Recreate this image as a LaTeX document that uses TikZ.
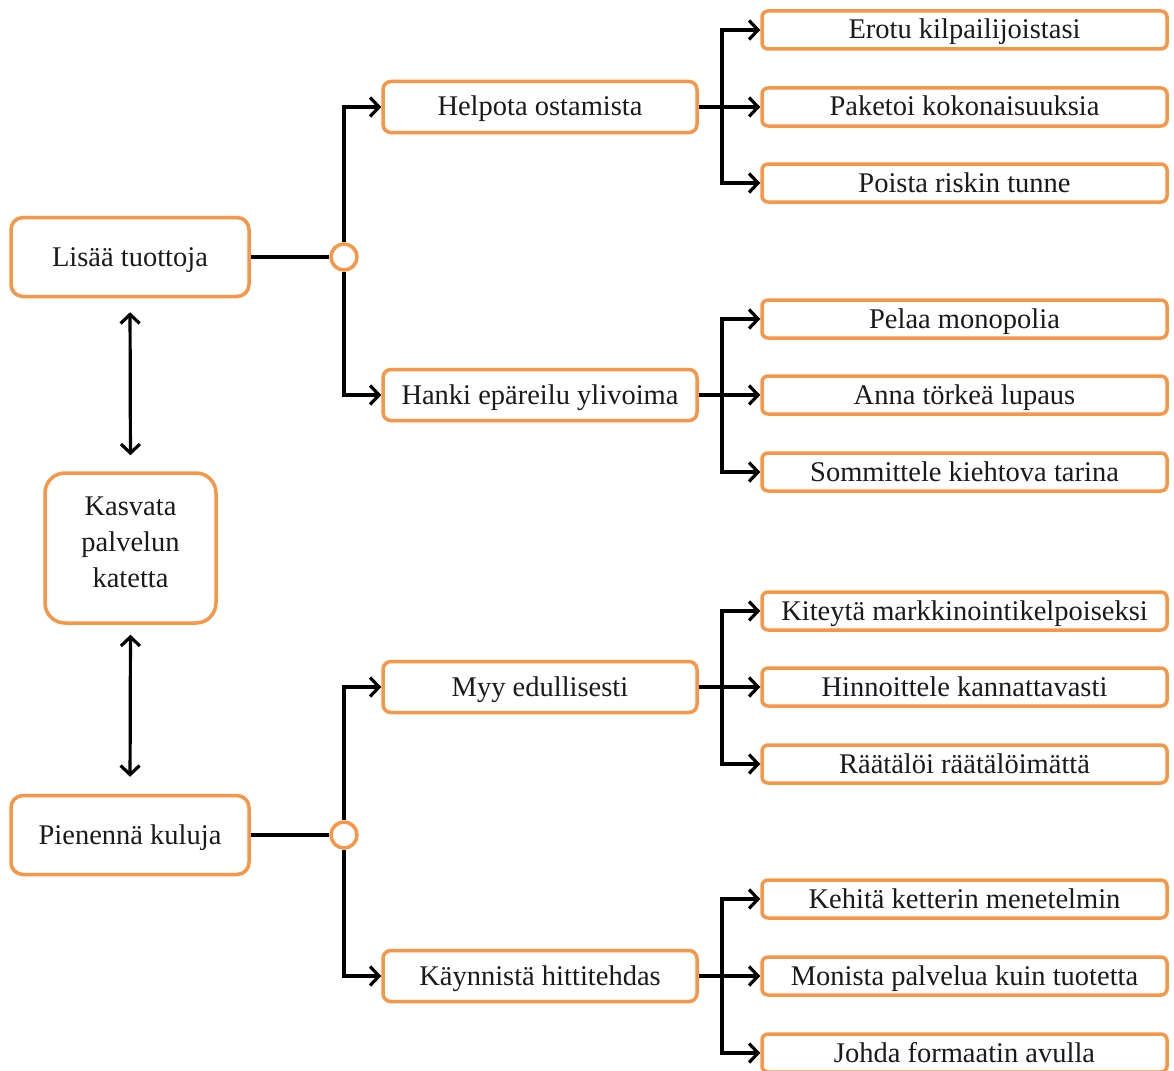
\documentclass[tikz,border=0pt]{standalone}
\usepackage{fontspec}
\setmainfont{Liberation Serif}
\usetikzlibrary{arrows.meta}
\definecolor{orng}{HTML}{F79646}
\definecolor{txt}{HTML}{1A1A1A}
\tikzset{
  box/.style={draw=orng, line width=3.5pt, fill=white, text=txt, align=center, inner sep=0pt,
    font=\fontsize{28.5}{34}\selectfont},
  onel/.style={text height=22pt, text depth=4pt},
  leftbox/.style={box, onel, rounded corners=12pt, minimum width=238pt, minimum height=79pt},
  midbox/.style={box, onel, rounded corners=8pt, minimum width=314pt, minimum height=51pt},
  rightbox/.style={box, onel, rounded corners=6pt, minimum width=405pt, minimum height=38pt},
  hub/.style={circle, draw=orng, line width=3.5pt, fill=white, minimum size=26pt, inner sep=0pt},
  conn/.style={line width=3.2pt, black},
  arr/.style={conn, -{Straight Barb[length=9pt,width=19pt]}},
  darr/.style={conn, {Straight Barb[length=9pt,width=19pt]}-{Straight Barb[length=9pt,width=19pt]}},
}
\begin{document}
\begin{tikzpicture}[x=1pt,y=-1pt]
\useasboundingbox (0,0) rectangle (1174,1070);
% left column
\node[leftbox] (lisaa) at (130,257) {Lisää tuottoja};
\node[box, rounded corners=20pt, minimum width=171pt, minimum height=150pt, text depth=11pt, font=\fontsize{28.5}{36}\selectfont] (kasvata) at (130.5,548) {Kasvata\\palvelun\\katetta};
\node[leftbox] (pienenna) at (130,835) {Pienennä kuluja};
% hubs
\node[hub] (h1) at (344,257) {};
\node[hub] (h2) at (344,835) {};
% middle
\node[midbox] (helpota) at (540,107) {Helpota ostamista};
\node[midbox] (hanki) at (540,395) {Hanki epäreilu ylivoima};
\node[midbox] (myy) at (540,687) {Myy edullisesti};
\node[midbox] (kaynnista) at (540,976) {Käynnistä hittitehdas};
% right
\node[rightbox] (erotu) at (964.5,30) {Erotu kilpailijoistasi};
\node[rightbox] (paketoi) at (964.5,107) {Paketoi kokonaisuuksia};
\node[rightbox] (poista) at (964.5,183) {Poista riskin tunne};
\node[rightbox] (pelaa) at (964.5,319) {Pelaa monopolia};
\node[rightbox] (anna) at (964.5,395) {Anna törkeä lupaus};
\node[rightbox] (sommittele) at (964.5,472) {Sommittele kiehtova tarina};
\node[rightbox] (kiteyta) at (964.5,611) {Kiteytä markkinointikelpoiseksi};
\node[rightbox] (hinnoittele) at (964.5,687) {Hinnoittele kannattavasti};
\node[rightbox] (raataloi) at (964.5,764) {Räätälöi räätälöimättä};
\node[rightbox] (kehita) at (964.5,899) {Kehitä ketterin menetelmin};
\node[rightbox] (monista) at (964.5,976) {Monista palvelua kuin tuotetta};
\node[rightbox] (johda) at (964.5,1053) {Johda formaatin avulla};
% branch points
\coordinate (b1) at (722,107);
\coordinate (b2) at (722,395);
\coordinate (b3) at (722,687);
\coordinate (b4) at (722,976);
% connectors
\draw[darr, shorten <=14pt, shorten >=16pt] (lisaa.south) -- (kasvata.north);
\draw[darr, shorten <=10pt, shorten >=17pt] (kasvata.south) -- (pienenna.north);
\draw[conn] (lisaa.east) -- (h1.west);
\draw[conn] (pienenna.east) -- (h2.west);
\draw[arr] (h1.north) |- (helpota.west);
\draw[arr] (h1.south) |- (hanki.west);
\draw[arr] (h2.north) |- (myy.west);
\draw[arr] (h2.south) |- (kaynnista.west);
\draw[arr] (helpota.east) -- (paketoi.west);
\draw[arr] (b1) |- (erotu.west);
\draw[arr] (b1) |- (poista.west);
\draw[arr] (hanki.east) -- (anna.west);
\draw[arr] (b2) |- (pelaa.west);
\draw[arr] (b2) |- (sommittele.west);
\draw[arr] (myy.east) -- (hinnoittele.west);
\draw[arr] (b3) |- (kiteyta.west);
\draw[arr] (b3) |- (raataloi.west);
\draw[arr] (kaynnista.east) -- (monista.west);
\draw[arr] (b4) |- (kehita.west);
\draw[arr] (b4) |- (johda.west);
\end{tikzpicture}
\end{document}
